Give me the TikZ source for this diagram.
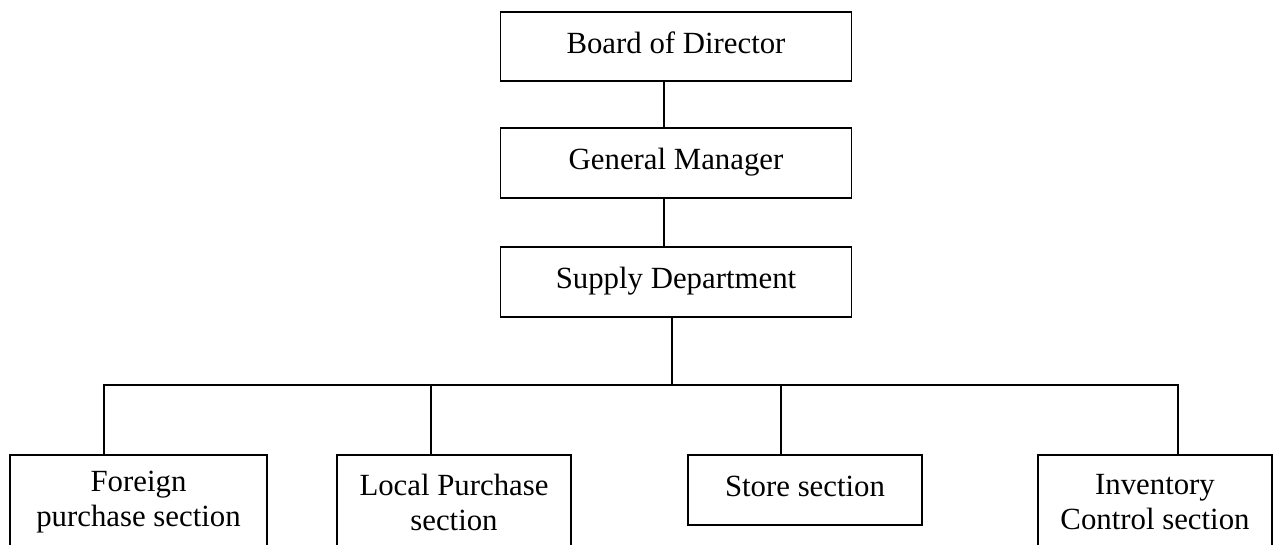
\documentclass[tikz,border=0pt]{standalone}
\usepackage{fontspec}
\setmainfont{Liberation Serif}
\begin{document}
\begin{tikzpicture}[x=1pt,y=-1pt,
  box/.style={draw=black,line width=1.8pt,rectangle,inner sep=0pt,align=center,
    font=\fontsize{30.8pt}{35pt}\selectfont},
  oneline/.style={box,text height=21pt,text depth=8pt},
  link/.style={draw=black,line width=1.8pt}]
  \path[use as bounding box] (0,0) rectangle (1276,544);
  \clip (0,0) rectangle (1276,544);

  % management chain
  \node[oneline,minimum width=351pt,minimum height=69pt] (board)  at (676,46.5) {Board of Director};
  \node[oneline,minimum width=351pt,minimum height=70pt] (gm)     at (676,163)  {General Manager};
  \node[oneline,minimum width=351pt,minimum height=70pt] (supply) at (676,282)  {Supply Department};

  % sections
  \node[box,minimum width=257pt,minimum height=95pt] (foreign) at (138.5,502.5) {Foreign\\purchase section};
  \node[box,minimum width=234pt,minimum height=95pt] (local)   at (454,502.5)   {Local Purchase\\section};
  \node[oneline,minimum width=234pt,minimum height=70pt] (store) at (805,490)   {Store section};
  \node[box,minimum width=234pt,minimum height=95pt] (inv)     at (1155,502.5)  {Inventory\\Control section};

  % connectors
  \coordinate (bus) at (672,385);
  \draw[link] ([xshift=-12pt]board.south) -- ([xshift=-12pt]gm.north);
  \draw[link] ([xshift=-12pt]gm.south) -- ([xshift=-12pt]supply.north);
  \draw[link] ([xshift=-4pt]supply.south) -- (bus);
  \draw[link] ([xshift=-34.5pt]foreign.north) |- (bus) -| ([xshift=23pt]inv.north);
  \draw[link] ([xshift=-23pt]local.north) -- ([xshift=-23pt]local.north |- bus);
  \draw[link] ([xshift=-24pt]store.north) -- ([xshift=-24pt]store.north |- bus);
\end{tikzpicture}
\end{document}
